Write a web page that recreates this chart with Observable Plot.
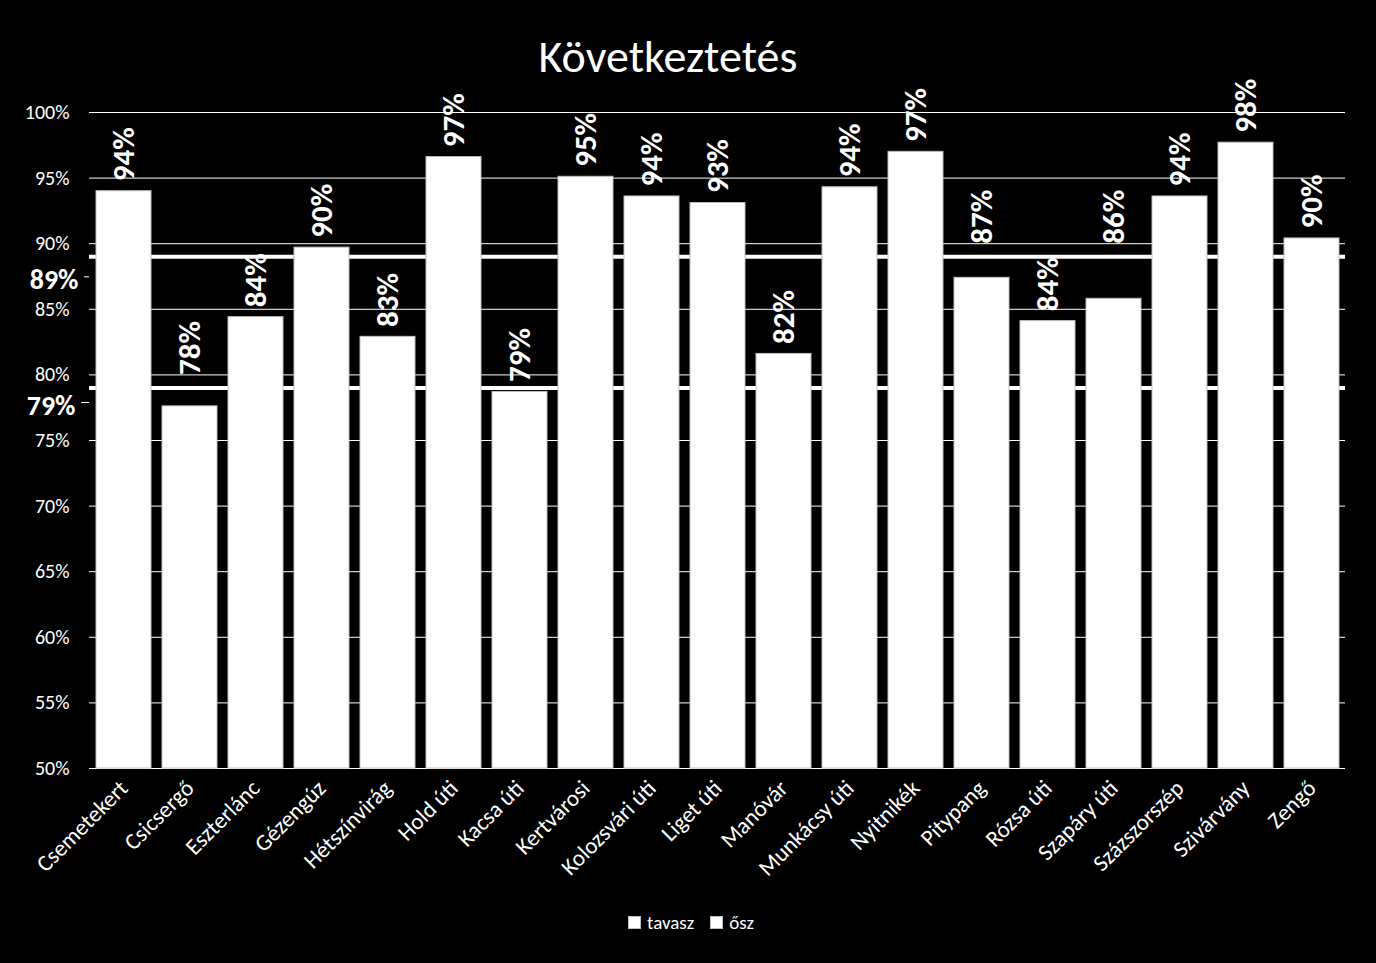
<!DOCTYPE html>
<html>
<head>
<meta charset="utf-8">
<script src="https://cdn.jsdelivr.net/npm/d3@7"></script>
<script src="https://cdn.jsdelivr.net/npm/@observablehq/plot@0.6"></script>
<style>
  html, body { margin: 0; padding: 0; background: #000; }
  body { width: 1376px; height: 963px; overflow: hidden; font-family: Carlito, Calibri, Lato, sans-serif; color: #fff; }
  #title { height: 66px; box-sizing: border-box; padding-top: 33px; padding-right: 40px; text-align: center; font-size: 46px; line-height: 46px; overflow: visible; position: relative; z-index: 1; }
  #legend { height: 44px; display: flex; justify-content: center; align-items: center; gap: 16px; font-size: 19px; padding-left: 6px; }
  #legend .item { display: flex; align-items: center; gap: 6px; }
  #legend .sw { width: 11px; height: 11px; background: #fff; border: 1px solid #bfbfbf; }
  #chart svg { display: block; }
</style>
</head>
<body>
<div id="title">Következtetés</div>
<div id="chart"></div>
<div id="legend"></div>
<script>
const schools = ["Csemetekert", "Csicsergő", "Eszterlánc", "Gézengúz", "Hétszínvirág", "Hold úti", "Kacsa úti", "Kertvárosi", "Kolozsvári úti", "Liget úti", "Manóvár", "Munkácsy úti", "Nyitnikék", "Pitypang", "Rózsa úti", "Szapáry úti", "Százszorszép", "Szivárvány", "Zengő"];
const values = [0.940, 0.776, 0.844, 0.897, 0.829, 0.966, 0.787, 0.951, 0.936, 0.931, 0.816, 0.943, 0.970, 0.874, 0.841, 0.858, 0.936, 0.977, 0.904];
const averages = [0.89, 0.79];
const averageLabels = ["89%", "79%"];
const yTicks = [0.5, 0.55, 0.6, 0.65, 0.7, 0.75, 0.8, 0.85, 0.9, 0.95, 1.0];
const legendItems = ["tavasz", "ősz"];

const data = schools.map((s, i) => ({school: s, value: values[i]}));
const fmt = d3.format(".0%");

// label anchor: just above the bar, or pushed above a reference line it would cross
const gap = 0.0076, len = 0.037, lift = 0.01;
function labelAnchor(v) {
  const lo = v + gap, hi = v + gap + len;
  for (const a of averages) if (a > lo && a < hi) return a + lift;
  return lo;
}

const font = "Carlito, Calibri, Lato, sans-serif";
const chart = Plot.plot({
  width: 1376,
  height: 834,
  marginLeft: 89,
  marginRight: 31,
  marginTop: 46,
  marginBottom: 132,
  style: {background: "transparent", color: "#fff", fontFamily: font},
  x: {domain: schools, paddingInner: 0.167, paddingOuter: 0.08, label: null},
  y: {domain: [0.5, 1], label: null},
  marks: [
    Plot.gridY(yTicks, {stroke: "#fff", strokeOpacity: 1, strokeWidth: 1}),
    Plot.ruleY(averages, {stroke: "#fff", strokeWidth: 4}),
    Plot.barY(data, {x: "school", y1: () => 0.5, y2: "value", fill: "#fff", stroke: "#c0c0c0", strokeWidth: 1}),
    Plot.text(data, {x: "school", y: d => labelAnchor(d.value), text: d => fmt(d.value), rotate: -90, textAnchor: "start", lineAnchor: "middle", fill: "#fff", fontWeight: "bold", fontSize: 31}),
    Plot.axisY(yTicks, {tickFormat: fmt, tickSize: 0, tickPadding: 20, fontSize: 20, fill: "#fff", label: null}),
    Plot.axisX({tickRotate: -45, tickSize: 0, tickPadding: 16, fontSize: 23, fill: "#fff", label: null}),
    Plot.text([averages[0]], {frameAnchor: "left", y: d => d, text: () => averageLabels[0], dx: -11, dy: 23, textAnchor: "end", fill: "#fff", fontWeight: "bold", fontSize: 28}),
    Plot.text([averages[1]], {frameAnchor: "left", y: d => d, text: () => averageLabels[1], dx: -14, dy: 18, textAnchor: "end", fill: "#fff", fontWeight: "bold", fontSize: 28})
  ]
});
document.getElementById("chart").appendChild(chart);

// small tick marks beside the reference-line labels
const ys = chart.scale("y");
const svg = d3.select(chart);
[[averages[0], 20.5, 84], [averages[1], 15, 81]].forEach(([v, off, x0]) => {
  const y = ys.apply(v) + off;
  svg.append("line").attr("x1", x0).attr("x2", 89).attr("y1", y).attr("y2", y).attr("stroke", "#fff").attr("stroke-width", 1);
});

const legend = document.getElementById("legend");
legendItems.forEach(t => {
  const it = document.createElement("div");
  it.className = "item";
  it.innerHTML = '<span class="sw"></span><span>' + t + '</span>';
  legend.appendChild(it);
});
</script>
</body>
</html>
